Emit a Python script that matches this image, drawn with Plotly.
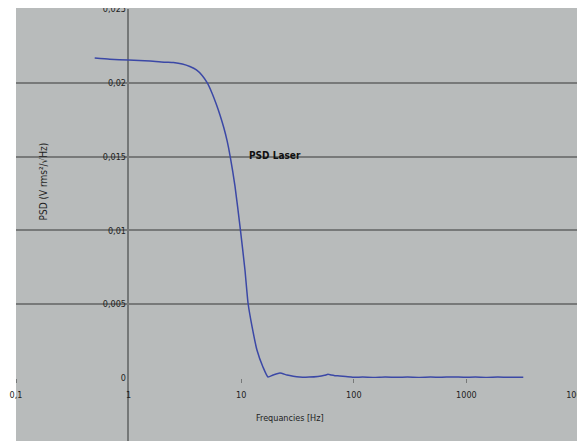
import plotly.graph_objects as go

# Data
freq_hz = [0.5, 0.68, 1.0, 1.55, 2.1, 2.5, 3.0, 3.5, 4.0, 4.5, 5.0, 5.5, 6.0,
           6.5, 7.0, 7.5, 8.0, 8.8, 9.8, 10.8, 11.5, 12.5, 13.8, 15.6, 17.3,
           19.2, 22.1, 25.5, 29, 33, 40, 48, 55, 59, 63, 68, 75, 85, 98, 120,
           150, 190, 240, 300, 380, 480, 600, 750, 950, 1200, 1500, 1900,
           2400, 3200]
psd = [0.02168, 0.0216, 0.02154, 0.02148, 0.0214, 0.02137, 0.02127, 0.0211,
       0.02087, 0.0205, 0.01999, 0.01931, 0.01856, 0.01779, 0.01697, 0.01606,
       0.01497, 0.01301, 0.01016, 0.00732, 0.00508, 0.00346, 0.0019, 0.00075,
       0.00007, 0.0002, 0.00034, 0.0002, 0.00012, 0.00007, 0.00006, 0.0001,
       0.00018, 0.00025, 0.0002, 0.00016, 0.00014, 0.0001, 0.00005, 0.00006,
       0.00004, 0.00007, 0.00005, 0.00006, 0.00004, 0.00006, 0.00005,
       0.00007, 0.00005, 0.00006, 0.00004, 0.00006, 0.00005, 0.00005]

x_tick_vals = [0.1, 1, 10, 100, 1000, 10000]
x_tick_text = ["0,1", "1", "10", "100", "1000", "10000"]
y_tick_vals = [0, 0.005, 0.01, 0.015, 0.02, 0.025]
y_tick_text = ["0", "0,005", "0,01", "0,015", "0,02", "0,025"]

series_name = "PSD Laser"
x_title = "Frequancies [Hz]"
y_title = "PSD (V rms²/√Hz)"

FONT = "Liberation Sans Narrow, DejaVu Sans Condensed, Arial Narrow, sans-serif"
GRAY_BG = "#b8bbbb"
GRID = "#777979"
TXT = "#1e1e1e"

fig = go.Figure()
fig.add_trace(go.Scatter(
    x=freq_hz, y=psd, mode="lines", name=series_name,
    line=dict(color="#3b48a6", width=1.5, shape="spline", smoothing=0.5),
    showlegend=False,
))

# page body has an 8px margin: figure occupies page x 8..585, y 8..441
W, H = 577, 433
ml, mr, mt, mb = 8, 6, 1, 63
pw = W - ml - mr
ph = H - mt - mb
ypos = (128 - 16) / pw

fig.update_layout(
    width=W, height=H,
    margin=dict(l=ml, r=mr, t=mt, b=mb, pad=0, autoexpand=False),
    paper_bgcolor="white",
    plot_bgcolor=GRAY_BG,
    separators=", ",
    font=dict(family=FONT, size=9, color=TXT),
    xaxis=dict(
        type="log", range=[-1, 4], automargin=False,
        tickvals=x_tick_vals, ticktext=x_tick_text,
        ticks="outside", ticklen=4, tickcolor=GRID, tickwidth=1,
        showgrid=False, zeroline=False, showline=False,
        tickfont=dict(family=FONT, size=9, color=TXT),
        ticklabelstandoff=4, ticklabeloverflow="allow",
    ),
    yaxis=dict(
        range=[0, 0.025], anchor="free", position=ypos, automargin=False,
        tickvals=y_tick_vals, ticktext=y_tick_text,
        ticks="", showline=False, zeroline=False,
        showgrid=True, gridcolor=GRID, gridwidth=1.8,
        tickfont=dict(family=FONT, size=9, color=TXT),
        ticklabelstandoff=2, ticklabeloverflow="allow",
    ),
    shapes=[
        dict(type="rect", xref="paper", yref="paper",
             x0=0, x1=1, y0=-(mb / ph), y1=1.003,
             fillcolor=GRAY_BG, line=dict(width=0), layer="below"),
        dict(type="line", xref="paper", yref="paper",
             x0=ypos, x1=ypos, y0=-(mb / ph), y1=1,
             line=dict(color="#505353", width=1.3), layer="below"),
    ],
    annotations=[
        dict(text="<b>" + series_name + "</b>", x=1.3, y=0.0151,
             xref="x", yref="y", showarrow=False,
             font=dict(family=FONT, size=10, color="#111111")),
        dict(text=x_title, xref="paper", yref="paper",
             x=(290 - 16) / pw, y=-(425 - 378) / ph, showarrow=False,
             font=dict(family=FONT, size=9, color=TXT)),
        dict(text=y_title, xref="paper", yref="paper", textangle=-90,
             x=(35 - 16) / pw, y=(378 - 182) / ph, showarrow=False,
             font=dict(family=FONT, size=10, color=TXT)),
    ],
)

fig.write_html("out.html")
